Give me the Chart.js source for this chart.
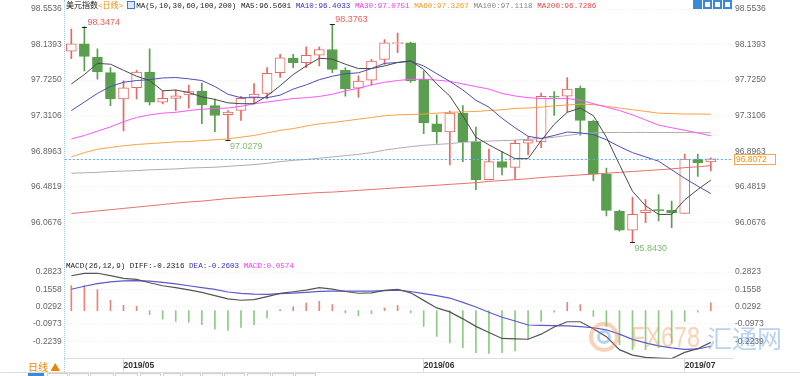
<!DOCTYPE html>
<html>
<head>
<meta charset="utf-8">
<script src="https://cdn.jsdelivr.net/npm/chart.js@4.4.1/dist/chart.umd.min.js"></script>
<style>
  html, body { margin: 0; padding: 0; background: #fff; }
  #wrap { position: relative; width: 800px; height: 376px; overflow: hidden; font-family: 'Liberation Sans', Arial, sans-serif; }
  canvas { position: absolute; left: 0; }
  #main { top: 0; }
  #macd { top: 262px; }
  .title { position: absolute; left: 66px; font-size: 7.6px; font-family: 'Liberation Mono', 'Noto Sans CJK SC', monospace; white-space: pre; color: #222; }
  .ico { display: inline-block; width: 6px; height: 6px; border: 1px solid #4a78c8; background: #dfe8f8; margin: 0 1px 0 4px; vertical-align: -1px; }
  .tool { position: absolute; top: 0; width: 9px; height: 9px; background: #3b8ad9; }
  .tool i { position: absolute; left: 2px; top: 2px; width: 5px; height: 5px; background: #fff; }
  #leftline { position: absolute; left: 64px; top: 0; height: 372px; border-left: 1px dotted #9cc8ee; }
  #footline { position: absolute; left: 0; top: 372px; width: 800px; border-top: 1px solid #dcdcdc; }
  .tab { position: absolute; top: 373px; height: 6px; border: 1px solid #d0d0d0; background: #fafafa; }
  .wm { position: absolute; opacity: 0.4; }
</style>
</head>
<body>
<div id="wrap">
  <canvas id="main" width="800" height="266"></canvas>
  <canvas id="macd" width="800" height="114"></canvas>
  <div id="leftline"></div>

  <div class="title" style="top:0;line-height:11px;"><span style="font-size:8px">美元指数</span><span style="color:#f08a00">&lt;<span style="font-size:8px">日线</span>&gt;</span><span class="ico"></span>MA(5,10,30,60,100,200) MA5:96.5601 <span style="color:#3434c4">MA10:96.4033</span> <span style="color:#f23cf2">MA30:97.0751</span> <span style="color:#f79a2a">MA60:97.3267</span> <span style="color:#888">MA100:97.1118</span> <span style="color:#e04a44">MA200:96.7286</span></div>
  <div class="title" style="top:261px;line-height:10px;">MACD(26,12,9) DIFF:-0.2316 <span style="color:#3434c4">DEA:-0.2603</span> <span style="color:#f23cf2">MACD:0.0574</span></div>

  <div class="tool" style="left:693px"></div>
  <div class="tool" style="left:703px"><i></i></div>
  <div class="tool" style="left:713px"><i></i></div>
  <div class="tool" style="left:723px"><i></i></div>

  <div class="wm" style="left:589px;top:322px;width:22px;height:22px;border:4px solid #f0924a;border-radius:50%;"></div>
  <div class="wm" style="left:597px;top:330px;width:8px;height:8px;border:3px solid #4f8ed6;border-radius:50%;"></div>
  <div class="wm" style="left:631px;top:320px;font-size:30px;color:#f0924a;transform:scaleX(0.78);transform-origin:left top;">FX678</div>
  <div class="wm" style="left:707px;top:320px;font-size:25px;color:#4f8ed6;font-family:'Noto Sans CJK SC';line-height:34px;">汇通网</div>

  <div style="position:absolute;left:28px;top:361px;font-size:10px;color:#f08300;font-family:'Noto Sans CJK SC';line-height:12px;">日线 ▲</div>
  <div id="footline"></div>
  <div class="tab" style="left:28px;width:14px;background:#3b8ad9;border-color:#3b8ad9"></div>
  <div class="tab" style="left:47px;width:19px"></div>
  <div class="tab" style="left:69px;width:18px"></div>
  <div class="tab" style="left:90px;width:22px"></div>
  <div class="tab" style="left:115px;width:21px"></div>
  <div class="tab" style="left:140px;width:19px"></div>
  <div class="tab" style="left:163px;width:16px"></div>
  <div class="tab" style="left:182px;width:17px"></div>
  <div class="tab" style="left:202px;width:19px"></div>
  <div class="tab" style="left:224px;width:19px"></div>
  <div class="tab" style="left:247px;width:22px"></div>
  <div class="tab" style="left:272px;width:20px"></div>
  <div class="tab" style="left:295px;width:19px"></div>
</div>

<script>
'use strict';

/* ---- data ---- */
const dates = ['2019/04/25', '2019/04/26', '2019/04/29', '2019/04/30', '2019/05/01', '2019/05/02', '2019/05/03',
  '2019/05/06', '2019/05/07', '2019/05/08', '2019/05/09', '2019/05/10', '2019/05/13', '2019/05/14', '2019/05/15',
  '2019/05/16', '2019/05/17', '2019/05/20', '2019/05/21', '2019/05/22', '2019/05/23', '2019/05/24', '2019/05/27',
  '2019/05/28', '2019/05/29', '2019/05/30', '2019/05/31', '2019/06/03', '2019/06/04', '2019/06/05', '2019/06/06',
  '2019/06/07', '2019/06/10', '2019/06/11', '2019/06/12', '2019/06/13', '2019/06/14', '2019/06/17', '2019/06/18',
  '2019/06/19', '2019/06/20', '2019/06/21', '2019/06/24', '2019/06/25', '2019/06/26', '2019/06/27', '2019/06/28',
  '2019/07/01', '2019/07/02', '2019/07/03'];

const opens = [98.062, 98.147, 97.993, 97.813, 97.505, 97.636, 97.820, 97.467, 97.513, 97.552, 97.598, 97.428, 97.321,
  97.371, 97.525, 97.571, 97.813, 97.981, 97.928, 98.017, 98.082, 97.840, 97.632, 97.724, 97.966, 98.151, 98.159,
  97.736, 97.217, 97.122, 97.341, 97.006, 96.564, 96.776, 96.707, 96.991, 97.006, 97.537, 97.537, 97.629, 97.244,
  96.629, 96.199, 95.976, 96.180, 96.215, 96.207, 96.172, 96.806, 96.772];
const highs = [98.320, 98.3474, 98.090, 97.871, 97.716, 97.840, 98.090, 97.601, 97.609, 97.667, 97.690, 97.505, 97.371,
  97.537, 97.686, 97.871, 98.024, 98.024, 98.113, 98.113, 98.3763, 97.871, 97.774, 97.966, 98.197, 98.274, 98.167,
  97.832, 97.321, 97.364, 97.428, 97.179, 96.921, 96.891, 97.025, 97.064, 97.575, 97.590, 97.755, 97.655, 97.260,
  96.699, 96.210, 96.361, 96.333, 96.391, 96.315, 96.864, 96.864, 96.818];
const lows = [97.974, 97.832, 97.736, 97.428, 97.133, 97.505, 97.436, 97.448, 97.371, 97.398, 97.217, 97.125, 97.0279,
  97.255, 97.448, 97.505, 97.755, 97.871, 97.871, 97.889, 97.813, 97.537, 97.525, 97.667, 97.909, 98.044, 97.698,
  97.102, 96.987, 96.737, 96.776, 96.449, 96.564, 96.621, 96.572, 96.852, 96.937, 97.313, 97.352, 97.083, 96.552,
  96.142, 95.965, 95.8430, 96.065, 96.084, 96.007, 96.172, 96.603, 96.668];
const closes = [98.147, 98.001, 97.820, 97.505, 97.636, 97.820, 97.467, 97.513, 97.543, 97.590, 97.436, 97.313, 97.352,
  97.514, 97.563, 97.805, 97.986, 97.928, 98.013, 98.082, 97.851, 97.621, 97.713, 97.947, 98.159, 98.159, 97.716,
  97.225, 97.122, 97.341, 97.006, 96.564, 96.776, 96.707, 96.987, 97.025, 97.537, 97.525, 97.621, 97.255, 96.629,
  96.207, 95.976, 96.161, 96.211, 96.200, 96.177, 96.806, 96.764, 96.8072];

const ma5 = [97.68, 97.79, 97.92, 97.91, 97.84, 97.77, 97.72, 97.60, 97.61, 97.58, 97.53, 97.50, 97.46, 97.45, 97.45,
  97.54, 97.66, 97.79, 97.89, 97.98, 97.97, 97.91, 97.86, 97.86, 97.89, 97.93, 97.95, 97.85, 97.68, 97.54, 97.31,
  97.06, 96.97, 96.89, 96.81, 96.81, 97.02, 97.21, 97.35, 97.40, 97.31, 97.06, 96.74, 96.43, 96.26, 96.16, 96.16,
  96.33, 96.45, 96.5601];
const ma10 = [97.37, 97.47, 97.57, 97.65, 97.70, 97.72, 97.73, 97.75, 97.755, 97.74, 97.72, 97.65, 97.56, 97.52, 97.52,
  97.52, 97.55, 97.62, 97.67, 97.73, 97.77, 97.80, 97.81, 97.86, 97.92, 97.93, 97.945, 97.89, 97.80, 97.71, 97.61,
  97.49, 97.41, 97.28, 97.17, 97.07, 97.045, 97.08, 97.12, 97.11, 97.09, 97.03, 96.95, 96.88, 96.83, 96.78, 96.68,
  96.58, 96.49, 96.4033];
const ma30 = [97.04, 97.08, 97.13, 97.18, 97.24, 97.29, 97.32, 97.34, 97.35, 97.37, 97.385, 97.395, 97.40, 97.42, 97.45,
  97.47, 97.49, 97.51, 97.52, 97.535, 97.56, 97.60, 97.63, 97.67, 97.70, 97.72, 97.735, 97.735, 97.725, 97.71, 97.68,
  97.65, 97.62, 97.57, 97.54, 97.52, 97.51, 97.51, 97.51, 97.49, 97.45, 97.41, 97.37, 97.32, 97.26, 97.20, 97.17,
  97.14, 97.11, 97.0751];
const ma60 = [96.83, 96.88, 96.92, 96.94, 96.96, 96.975, 96.985, 96.995, 97.005, 97.01, 97.02, 97.03, 97.04, 97.06,
  97.08, 97.11, 97.14, 97.16, 97.19, 97.215, 97.23, 97.25, 97.27, 97.29, 97.31, 97.32, 97.325, 97.33, 97.34, 97.35,
  97.355, 97.36, 97.37, 97.38, 97.395, 97.40, 97.41, 97.425, 97.435, 97.445, 97.44, 97.42, 97.40, 97.38, 97.36,
  97.34, 97.335, 97.33, 97.33, 97.3267];
const ma100 = [96.64, 96.645, 96.65, 96.66, 96.665, 96.67, 96.68, 96.685, 96.69, 96.70, 96.705, 96.71, 96.72, 96.73,
  96.74, 96.755, 96.775, 96.79, 96.80, 96.815, 96.83, 96.845, 96.86, 96.88, 96.91, 96.93, 96.95, 96.965, 96.975,
  96.985, 97.00, 97.01, 97.015, 97.02, 97.025, 97.035, 97.045, 97.06, 97.08, 97.10, 97.11, 97.115, 97.115, 97.115,
  97.115, 97.115, 97.114, 97.113, 97.112, 97.1118];
const ma200 = [96.17, 96.185, 96.20, 96.215, 96.23, 96.245, 96.26, 96.275, 96.29, 96.305, 96.315, 96.33, 96.345,
  96.355, 96.365, 96.375, 96.385, 96.395, 96.405, 96.415, 96.42, 96.43, 96.44, 96.45, 96.46, 96.47, 96.48, 96.49,
  96.50, 96.51, 96.52, 96.53, 96.545, 96.555, 96.565, 96.575, 96.59, 96.60, 96.61, 96.62, 96.63, 96.64, 96.65, 96.66,
  96.67, 96.68, 96.69, 96.705, 96.715, 96.7286];

const diff = [0.255, 0.272, 0.273, 0.256, 0.236, 0.229, 0.204, 0.182, 0.168, 0.152, 0.133, 0.110, 0.086, 0.076, 0.080,
  0.102, 0.126, 0.138, 0.150, 0.168, 0.157, 0.140, 0.127, 0.130, 0.148, 0.156, 0.130, 0.075, 0.020, -0.009, -0.060,
  -0.115, -0.160, -0.203, -0.207, -0.209, -0.172, -0.120, -0.081, -0.081, -0.132, -0.190, -0.285, -0.325, -0.342,
  -0.347, -0.350, -0.305, -0.278, -0.2316];
const dea = [0.156, 0.178, 0.198, 0.210, 0.218, 0.220, 0.215, 0.206, 0.195, 0.182, 0.168, 0.155, 0.136, 0.126, 0.120,
  0.119, 0.124, 0.128, 0.134, 0.141, 0.143, 0.143, 0.143, 0.143, 0.146, 0.150, 0.140, 0.124, 0.110, 0.092, 0.060,
  0.027, -0.012, -0.048, -0.076, -0.105, -0.108, -0.110, -0.112, -0.117, -0.125, -0.140, -0.172, -0.210, -0.235,
  -0.258, -0.272, -0.283, -0.280, -0.2603];
const macdHist = [0.183, 0.183, 0.154, 0.075, 0.039, 0.031, -0.029, -0.061, -0.078, -0.085, -0.102, -0.134, -0.144,
  -0.122, -0.102, -0.053, 0.007, 0.027, 0.056, 0.068, 0.044, -0.017, -0.037, -0.022, 0.020, 0.037, -0.017, -0.115,
  -0.188, -0.236, -0.271, -0.307, -0.312, -0.307, -0.295, -0.212, -0.078, -0.012, 0.061, 0.044, -0.042, -0.115,
  -0.249, -0.285, -0.285, -0.271, -0.236, -0.078, -0.012, 0.0574];

const priceTicks = [98.5536, 98.1393, 97.7250, 97.3106, 96.8963, 96.4819, 96.0676];
const priceMin = 95.6533, priceMax = 98.5536;
const macdTicks = [0.2823, 0.1558, 0.0292, -0.0973, -0.2239];
const macdMin = -0.3504, macdMax = 0.2823;

// candles whose extreme gets a value tag
const markHighs = [2, 21];
const markLows = [13, 44];

/* ---- styling ---- */
const UP = '#e8675f', DOWN = '#5a9e4f';
const FONT = 'Liberation Sans';
const xRange = { type: 'linear', min: 0.5, max: 51.7, offset: false };

const pts = arr => arr.map((v, i) => ({ x: i + 1, y: v }));
const isUp = closes.map((c, i) => c >= opens[i]);
const monthStarts = dates.map((d, i) => i).filter(i => i > 0 && dates[i].slice(0, 7) !== dates[i - 1].slice(0, 7)).map(i => i + 1);

function maLine(data, color) {
    return { type: 'line', data: pts(data), borderColor: color, borderWidth: 1, pointRadius: 0, tension: 0, order: 0 };
}

function yAxis(pos, ticks, min, max, pad) {
    return {
        position: pos, min, max,
        afterBuildTicks: s => { s.ticks = ticks.map(v => ({ value: v })); },
        afterFit: s => { s.width = pos === 'left' ? 64.8 : 67; },
        ticks: { padding: pad, color: '#666', font: { size: 8.5, family: FONT }, callback: v => v.toFixed(4) },
        grid: { display: pos === 'left', color: 'rgba(0,0,0,0.07)', drawTicks: false },
        border: { display: false, dash: [1, 2] },
    };
}

/* ---- main price panel decorations: last-price line, tag, extreme tags ---- */
const mainDecor = {
    id: 'mainDecor',
    afterDatasetsDraw(chart) {
        const { ctx, chartArea: a, scales: { x, y } } = chart;
        const last = closes[closes.length - 1];
        const py = Math.round(y.getPixelForValue(last)) + 0.5;
        ctx.save();
        ctx.strokeStyle = '#5aa9f5';
        ctx.lineWidth = 1;
        ctx.setLineDash([2, 2]);
        ctx.beginPath(); ctx.moveTo(a.left, py); ctx.lineTo(a.right, py); ctx.stroke();
        ctx.setLineDash([]);

        // price tag on the right axis
        ctx.fillStyle = '#fff';
        ctx.fillRect(a.right + 1, py - 5.5, 42, 11);
        ctx.strokeStyle = '#f7a34a';
        ctx.strokeRect(a.right + 1.5, py - 5, 41, 10);
        ctx.fillStyle = '#f39200';
        ctx.font = '8.5px ' + FONT;
        ctx.textBaseline = 'middle';
        ctx.fillText(last.toFixed(4), a.right + 3, py + 0.5);

        ctx.font = '9px ' + FONT;
        ctx.strokeStyle = '#222';
        const dash = (px, vy) => { ctx.beginPath(); ctx.moveTo(px - 2.5, vy); ctx.lineTo(px + 2.5, vy); ctx.stroke(); };
        markHighs.forEach(i => {
            const px = x.getPixelForValue(i), hy = Math.round(y.getPixelForValue(highs[i - 1])) + 0.5;
            dash(px, hy);
            ctx.fillStyle = '#e8645a';
            ctx.textBaseline = 'bottom';
            ctx.fillText(highs[i - 1].toFixed(4), px + 3, hy);
        });
        markLows.forEach(i => {
            const px = x.getPixelForValue(i), ly = Math.round(y.getPixelForValue(lows[i - 1])) + 0.5;
            dash(px, ly);
            ctx.fillStyle = '#7cbf6e';
            ctx.textBaseline = 'top';
            ctx.fillText(lows[i - 1].toFixed(4), px + 2, ly + 2);
        });
        ctx.restore();
    },
};

/* ---- main chart: candles + moving averages ---- */
new Chart(document.getElementById('main'), {
    type: 'bar',
    data: {
        datasets: [
            maLine(ma5, '#4a4a4a'),
            maLine(ma10, '#4d4dbb'),
            maLine(ma30, '#ff55ff'),
            maLine(ma60, '#ffa043'),
            maLine(ma100, '#adadad'),
            maLine(ma200, '#e8706a'),
            {
                data: closes.map((c, i) => ({ x: i + 1, y: [opens[i], c] })),
                backgroundColor: isUp.map(u => (u ? '#fff' : DOWN)),
                borderColor: isUp.map(u => (u ? UP : DOWN)),
                borderWidth: 1, borderSkipped: false, barThickness: 10, minBarLength: 1,
                grouped: false, order: 1,
            },
            {
                data: lows.map((l, i) => ({ x: i + 1, y: [l, highs[i]] })),
                backgroundColor: isUp.map(u => (u ? UP : DOWN)),
                barThickness: 1, grouped: false, order: 2,
            },
        ],
    },
    options: {
        responsive: false,
        animation: false,
        layout: { padding: { top: 9, bottom: 6, left: 0, right: 0 } },
        plugins: { legend: { display: false }, tooltip: { enabled: false } },
        scales: {
            x: { ...xRange, display: false },
            y: yAxis('left', priceTicks, priceMin, priceMax, 3),
            y2: yAxis('right', priceTicks, priceMin, priceMax, 2),
        },
    },
    plugins: [mainDecor],
});

/* ---- MACD panel ---- */
new Chart(document.getElementById('macd'), {
    type: 'bar',
    data: {
        datasets: [
            { type: 'line', data: pts(diff), borderColor: '#555', borderWidth: 1.2, pointRadius: 0, order: 0 },
            { type: 'line', data: pts(dea), borderColor: '#5a5ad0', borderWidth: 1.2, pointRadius: 0, order: 0 },
            {
                data: pts(macdHist),
                backgroundColor: macdHist.map(v => (v >= 0 ? '#e8847e' : '#8ccb84')),
                barThickness: 1, order: 1,
            },
        ],
    },
    options: {
        responsive: false,
        animation: false,
        layout: { padding: { top: 10, bottom: 4, left: 0, right: 0 } },
        plugins: { legend: { display: false }, tooltip: { enabled: false } },
        scales: {
            x: {
                ...xRange,
                afterBuildTicks: s => { s.ticks = monthStarts.map(v => ({ value: v })); },
                afterFit: s => { s.height = 13.4; },
                ticks: {
                    align: 'start', padding: -11, autoSkip: false, maxRotation: 0, color: '#333',
                    font: { size: 8.5, weight: 'bold', family: FONT },
                    callback: v => dates[v - 1].slice(0, 7),
                },
                grid: { offset: false, drawOnChartArea: false, drawTicks: true, tickLength: 13, tickColor: '#d6d6d6' },
                border: { display: true, color: '#dedede' },
            },
            y: yAxis('left', macdTicks, macdMin, macdMax, 3),
            y2: yAxis('right', macdTicks, macdMin, macdMax, 2),
        },
    },
});
</script>
</body>
</html>
